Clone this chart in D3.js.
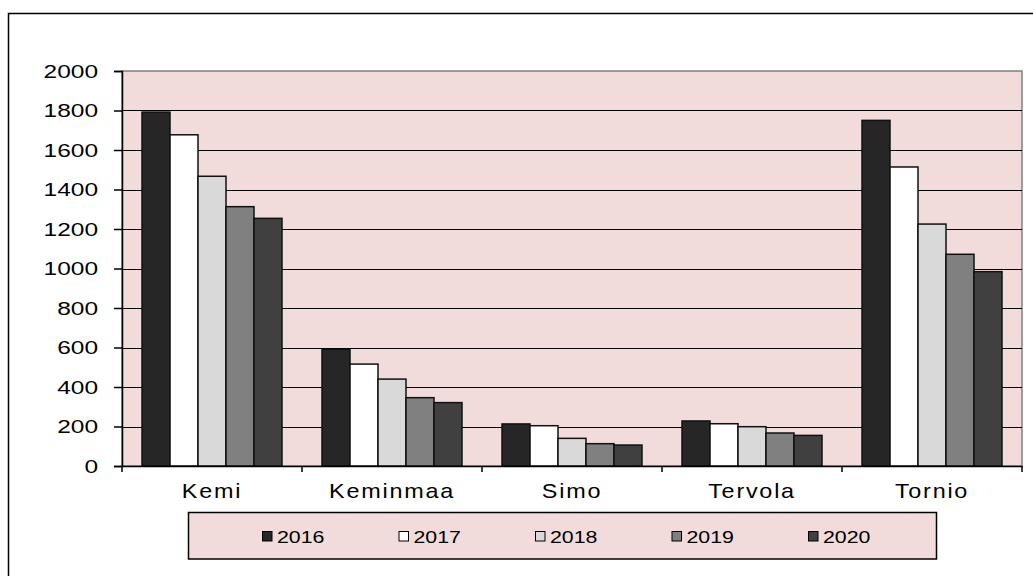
<!DOCTYPE html>
<html>
<head>
<meta charset="utf-8">
<script src="https://cdn.jsdelivr.net/npm/d3@7"></script>
<style>
  body { margin: 0; background: #fff; }
  text { font-family: "Liberation Sans", Arial, sans-serif; fill: #000; }
</style>
</head>
<body>
<div id="chart"></div>
<script>
/* DATA */
const municipalities = ["Kemi", "Keminmaa", "Simo", "Tervola", "Tornio"];
const years = ["2016", "2017", "2018", "2019", "2020"];
const values2016 = [1792, 591, 213, 228, 1750];
const values2017 = [1677, 516, 204, 214, 1514];
const values2018 = [1467, 440, 140, 199, 1225];
const values2019 = [1313, 346, 113, 167, 1072];
const values2020 = [1254, 321, 106, 155, 984];
const yTicks = [0, 200, 400, 600, 800, 1000, 1200, 1400, 1600, 1800, 2000];

const seriesValues = [values2016, values2017, values2018, values2019, values2020];
const yearColors = ["#262626", "#ffffff", "#d9d9d9", "#808080", "#404040"];

/* CONSTANTS */
const width = 1033,
  height = 576,
  plot = { left: 122, right: 1022, top: 71, bottom: 466 };

const svg = d3.select("#chart")
  .append("svg")
  .attr("width", width)
  .attr("height", height);

// outer chart frame (right and bottom edges fall outside the picture)
svg.append("path")
  .attr("d", `M8.5,${height + 5} V13.5 H${width + 5}`)
  .attr("fill", "none")
  .attr("stroke", "#000")
  .attr("stroke-width", 1.5);

// scales
const xScale = d3.scaleBand()
  .domain(municipalities)
  .range([plot.left, plot.right]);

const xInner = d3.scaleBand()
  .domain(years)
  .range([20, xScale.bandwidth() - 20]);

const yScale = d3.scaleLinear()
  .domain([0, 2000])
  .range([plot.bottom, plot.top]);

// plot area background
svg.append("rect")
  .attr("x", plot.left)
  .attr("y", plot.top)
  .attr("width", plot.right - plot.left)
  .attr("height", plot.bottom - plot.top)
  .attr("fill", "#f2dcdb")
  .attr("stroke", "#808080")
  .attr("stroke-width", 1.5);

// gridlines
svg.append("g")
  .selectAll("line")
  .data(yTicks.filter(d => d > 0 && d < 2000))
  .join("line")
  .attr("x1", plot.left)
  .attr("x2", plot.right)
  .attr("y1", d => Math.round(yScale(d)) + 0.5)
  .attr("y2", d => Math.round(yScale(d)) + 0.5)
  .attr("stroke", "#000")
  .attr("stroke-width", 1.2);

// bars
const rows = municipalities.map((m, i) => ({
  name: m,
  values: years.map((y, j) => ({ year: y, value: seriesValues[j][i], color: yearColors[j] }))
}));

svg.append("g")
  .selectAll("g")
  .data(rows)
  .join("g")
  .attr("transform", d => `translate(${xScale(d.name)},0)`)
  .selectAll("rect")
  .data(d => d.values)
  .join("rect")
  .attr("x", d => xInner(d.year))
  .attr("y", d => yScale(d.value))
  .attr("width", xInner.bandwidth())
  .attr("height", d => yScale(0) - yScale(d.value))
  .attr("fill", d => d.color)
  .attr("stroke", "#111")
  .attr("stroke-width", 1.5);

// y axis
const yAxis = d3.axisLeft(yScale)
  .tickValues(yTicks)
  .tickSize(8)
  .tickPadding(16)
  .tickFormat(d3.format("d"));

const yAxisGroup = svg.append("g")
  .attr("transform", `translate(${plot.left},0)`)
  .call(yAxis);
yAxisGroup.select(".domain").attr("stroke", "#000").attr("stroke-width", 1.5);
yAxisGroup.selectAll(".tick line").attr("stroke", "#000").attr("stroke-width", 1.5);
yAxisGroup.selectAll(".tick text")
  .attr("font-size", 17.5)
  .attr("font-family", "Liberation Sans, Arial, sans-serif")
  .attr("dy", "0.36em")
  .each(function () {
    const t = d3.select(this);
    const x = +t.attr("x");
    t.attr("x", null).attr("transform", `translate(${x},0) scale(1.4,1)`);
  });

// x axis
const xAxis = d3.axisBottom(xScale).tickSize(0).tickPadding(0);
const xAxisGroup = svg.append("g")
  .attr("transform", `translate(0,${plot.bottom})`)
  .call(xAxis);
xAxisGroup.select(".domain").attr("stroke", "#000").attr("stroke-width", 1.5);
xAxisGroup.selectAll(".tick text")
  .attr("font-size", 20)
  .attr("font-family", "Liberation Sans, Arial, sans-serif")
  .attr("letter-spacing", "1.5px")
  .attr("dy", null)
  .attr("y", null)
  .attr("transform", "translate(0,31.5) scale(1.17,1)");

// category separator ticks
svg.append("g")
  .selectAll("line")
  .data(municipalities.concat(["end"]))
  .join("line")
  .attr("x1", (d, i) => plot.left + i * xScale.bandwidth())
  .attr("x2", (d, i) => plot.left + i * xScale.bandwidth())
  .attr("y1", plot.bottom)
  .attr("y2", plot.bottom + 6)
  .attr("stroke", "#000")
  .attr("stroke-width", 1.5);

// legend
const legend = svg.append("g");
legend.append("rect")
  .attr("x", 188.5)
  .attr("y", 512.5)
  .attr("width", 748)
  .attr("height", 46.5)
  .attr("fill", "#f2dcdb")
  .attr("stroke", "#000")
  .attr("stroke-width", 1.5);

const legendItem = legend.selectAll("g.item")
  .data(years.map((y, j) => ({ year: y, color: yearColors[j] })))
  .join("g")
  .attr("class", "item")
  .attr("transform", (d, i) => `translate(${262 + i * 136.5},531)`);

legendItem.append("rect")
  .attr("x", 0.5)
  .attr("y", 0.5)
  .attr("width", 9.5)
  .attr("height", 9.5)
  .attr("fill", d => d.color)
  .attr("stroke", "#000")
  .attr("stroke-width", 1);

legendItem.append("text")
  .attr("transform", "translate(15,11.5) scale(1.27,1)")
  .attr("font-size", 16.8)
  .text(d => d.year);
</script>
</body>
</html>
